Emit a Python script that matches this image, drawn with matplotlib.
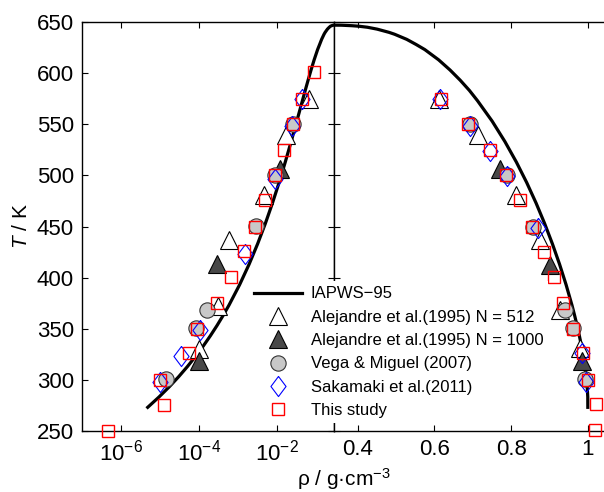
import matplotlib.pyplot as plt
from matplotlib.ticker import FixedLocator, FixedFormatter, LogFormatterMathtext, NullLocator

plt.rcParams['font.family'] = ['Liberation Sans', 'DejaVu Sans']
plt.rcParams['mathtext.fontset'] = 'custom'
plt.rcParams['mathtext.rm'] = 'Liberation Sans'
plt.rcParams['mathtext.it'] = 'Liberation Sans:italic'

# IAPWS-95 saturation curve (T in K, densities in g/cm3)
iapws_T = [273.16, 283.15, 293.15, 303.15, 313.15, 323.15, 333.15, 343.15,
           353.15, 363.15, 373.15, 393.15, 413.15, 433.15, 453.15, 473.15,
           493.15, 513.15, 533.15, 553.15, 573.15, 583.15, 593.15, 603.15,
           613.15, 623.15, 628.15, 633.15, 638.15, 640.0, 643.15, 645.0,
           646.0, 646.5, 647.0, 647.096]
iapws_vap = [4.854e-6, 9.407e-6, 1.731e-5, 3.041e-5, 5.123e-5, 8.308e-5,
             1.304e-4, 1.984e-4, 2.937e-4, 4.239e-4, 5.982e-4, 1.122e-3,
             1.967e-3, 3.260e-3, 5.159e-3, 7.861e-3, 1.162e-2, 1.674e-2,
             2.370e-2, 3.316e-2, 4.617e-2, 5.450e-2, 6.460e-2, 7.692e-2,
             9.259e-2, 0.1135, 0.1280, 0.1440, 0.1662, 0.1772, 0.2030,
             0.2265, 0.2430, 0.2600, 0.2865, 0.322]
iapws_liq = [0.9998, 0.9997, 0.9982, 0.9956, 0.9922, 0.9880, 0.9832, 0.9778,
             0.9718, 0.9653, 0.9584, 0.9431, 0.9261, 0.9074, 0.8870, 0.8647,
             0.8403, 0.8134, 0.7836, 0.7503, 0.7121, 0.6911, 0.6671, 0.6406,
             0.6107, 0.5747, 0.5520, 0.5276, 0.4960, 0.4815, 0.4505, 0.4251,
             0.4030, 0.3850, 0.3573, 0.322]

# Alejandre et al. (1995) N = 512
ale512_T_vap = [330, 372, 437, 481, 540, 575]
ale512_vap = [1.0e-4, 3.1e-4, 5.9e-4, 4.7e-3, 1.7e-2, 6.8e-2]
ale512_T_liq = [331, 368, 437, 481, 540, 575]
ale512_liq = [0.979, 0.928, 0.874, 0.813, 0.713, 0.611]

# Alejandre et al. (1995) N = 1000
ale1000_T_vap = [318, 413, 506]
ale1000_vap = [1.0e-4, 2.95e-4, 1.26e-2]
ale1000_T_liq = [318, 412, 506]
ale1000_liq = [0.984, 0.901, 0.771]

# Vega & Miguel (2007)
vega_T_vap = [301, 351, 368, 451, 500, 550]
vega_vap = [1.41e-5, 8.7e-5, 1.62e-4, 3.0e-3, 9.3e-3, 2.63e-2]
vega_T_liq = [301, 351, 368, 450, 500, 550]
vega_liq = [0.992, 0.960, 0.941, 0.858, 0.789, 0.692]

# Sakamaki et al. (2011)
saka_T_vap = [298, 323, 349, 423, 497, 548, 575]
saka_vap = [1.0e-5, 3.4e-5, 1.07e-4, 1.51e-3, 9.3e-3, 2.5e-2, 4.6e-2]
saka_T_liq = [298, 326, 449, 499, 524, 548, 575]
saka_liq = [0.995, 0.985, 0.869, 0.789, 0.745, 0.692, 0.615]

# This study
this_T_vap = [250, 275, 300, 326, 350, 375, 401, 426, 450, 476, 500, 525,
              550, 575, 601]
this_vap = [4.7e-7, 1.24e-5, 1.0e-5, 5.5e-5, 9.1e-5, 2.95e-4, 6.6e-4,
            1.45e-3, 2.75e-3, 5.0e-3, 8.9e-3, 1.55e-2, 2.63e-2, 4.6e-2, 9.1e-2]
this_T_liq = [251, 276, 300, 326, 350, 375, 401, 425, 450, 476, 500, 525,
              550, 575]
this_liq = [1.018, 1.021, 0.999, 0.988, 0.960, 0.936, 0.912, 0.885, 0.855,
            0.823, 0.786, 0.744, 0.687, 0.617]

right_ticks = [0.4, 0.6, 0.8, 1.0]
right_labels = ['0.4', '0.6', '0.8', '1']
y_ticks = [250, 300, 350, 400, 450, 500, 550, 600, 650]

curve_rho = iapws_vap + iapws_liq[::-1][1:]
curve_T = iapws_T + iapws_T[::-1][1:]

diamond = [(0, 1), (0.75, 0), (0, -1), (-0.75, 0), (0, 1)]
styles = [
    dict(marker='^', ms=12.5, mfc='white', mec='black', mew=0.8),
    dict(marker='^', ms=12.5, mfc='#484848', mec='black', mew=0.8),
    dict(marker='o', ms=11, mfc='#c8c8c8', mec='#333333', mew=0.8),
    dict(marker=diamond, ms=14.5, mfc='none', mec='blue', mew=0.8),
    dict(marker='s', ms=9.2, mfc='none', mec='red', mew=1.0),
]
labels = ['Alejandre et al.(1995) N = 512', 'Alejandre et al.(1995) N = 1000',
          'Vega & Miguel (2007)', 'Sakamaki et al.(2011)', 'This study']
vap_sets = [(ale512_vap, ale512_T_vap), (ale1000_vap, ale1000_T_vap),
            (vega_vap, vega_T_vap), (saka_vap, saka_T_vap),
            (this_vap, this_T_vap)]
liq_sets = [(ale512_liq, ale512_T_liq), (ale1000_liq, ale1000_T_liq),
            (vega_liq, vega_T_liq), (saka_liq, saka_T_liq),
            (this_liq, this_T_liq)]

fig = plt.figure(figsize=(6.04, 4.92), dpi=100)
axL = fig.add_axes([0.136, 0.124, 0.417, 0.831])
axR = fig.add_axes([0.553, 0.124, 0.447, 0.831])

handles = []
line, = axL.plot(curve_rho, curve_T, 'k-', lw=2.3, zorder=2)
handles.append(line)
axR.plot(curve_rho, curve_T, 'k-', lw=2.3, zorder=2)
for st, (x, y) in zip(styles, vap_sets):
    h, = axL.plot(x, y, ls='none', clip_on=False, zorder=3, **st)
    handles.append(h)
for st, (x, y) in zip(styles, liq_sets):
    axR.plot(x, y, ls='none', clip_on=False, zorder=3, **st)

axL.set_xscale('log')
axL.set_xlim(1e-7, 0.3)
axL.xaxis.set_major_locator(FixedLocator([1e-6, 1e-4, 1e-2]))
axL.xaxis.set_minor_locator(NullLocator())
axL.xaxis.set_major_formatter(LogFormatterMathtext())
axR.set_xlim(0.338, 1.042)
axR.xaxis.set_major_locator(FixedLocator(right_ticks))
axR.xaxis.set_major_formatter(FixedFormatter(right_labels))

for ax in (axL, axR):
    ax.set_ylim(250, 650)
    ax.yaxis.set_major_locator(FixedLocator(y_ticks))
    for sp in ax.spines.values():
        sp.set_linewidth(1.0)
    ax.tick_params(direction='in', length=4, width=0.8, labelsize=16,
                   top=True, pad=6)
axL.tick_params(right=True)
axR.tick_params(left=True, right=False, labelleft=False)
axR.spines['right'].set_visible(False)

axL.set_ylabel('$T$ / K', fontsize=15, labelpad=4)
fig.text(0.57, 0.001, 'ρ / g·cm$^{-3}$', fontsize=15, ha='center',
         va='bottom')

fig.legend(handles, ['IAPWS−95'] + labels, loc='upper left',
           bbox_to_anchor=(0.412, 0.428), frameon=True, fancybox=False,
           edgecolor='none', facecolor='white', framealpha=1, fontsize=12,
           handlelength=2.9, handletextpad=0.5, labelspacing=0.5,
           borderpad=0.3, borderaxespad=0, numpoints=1)

fig.savefig('out.png', dpi=100)
